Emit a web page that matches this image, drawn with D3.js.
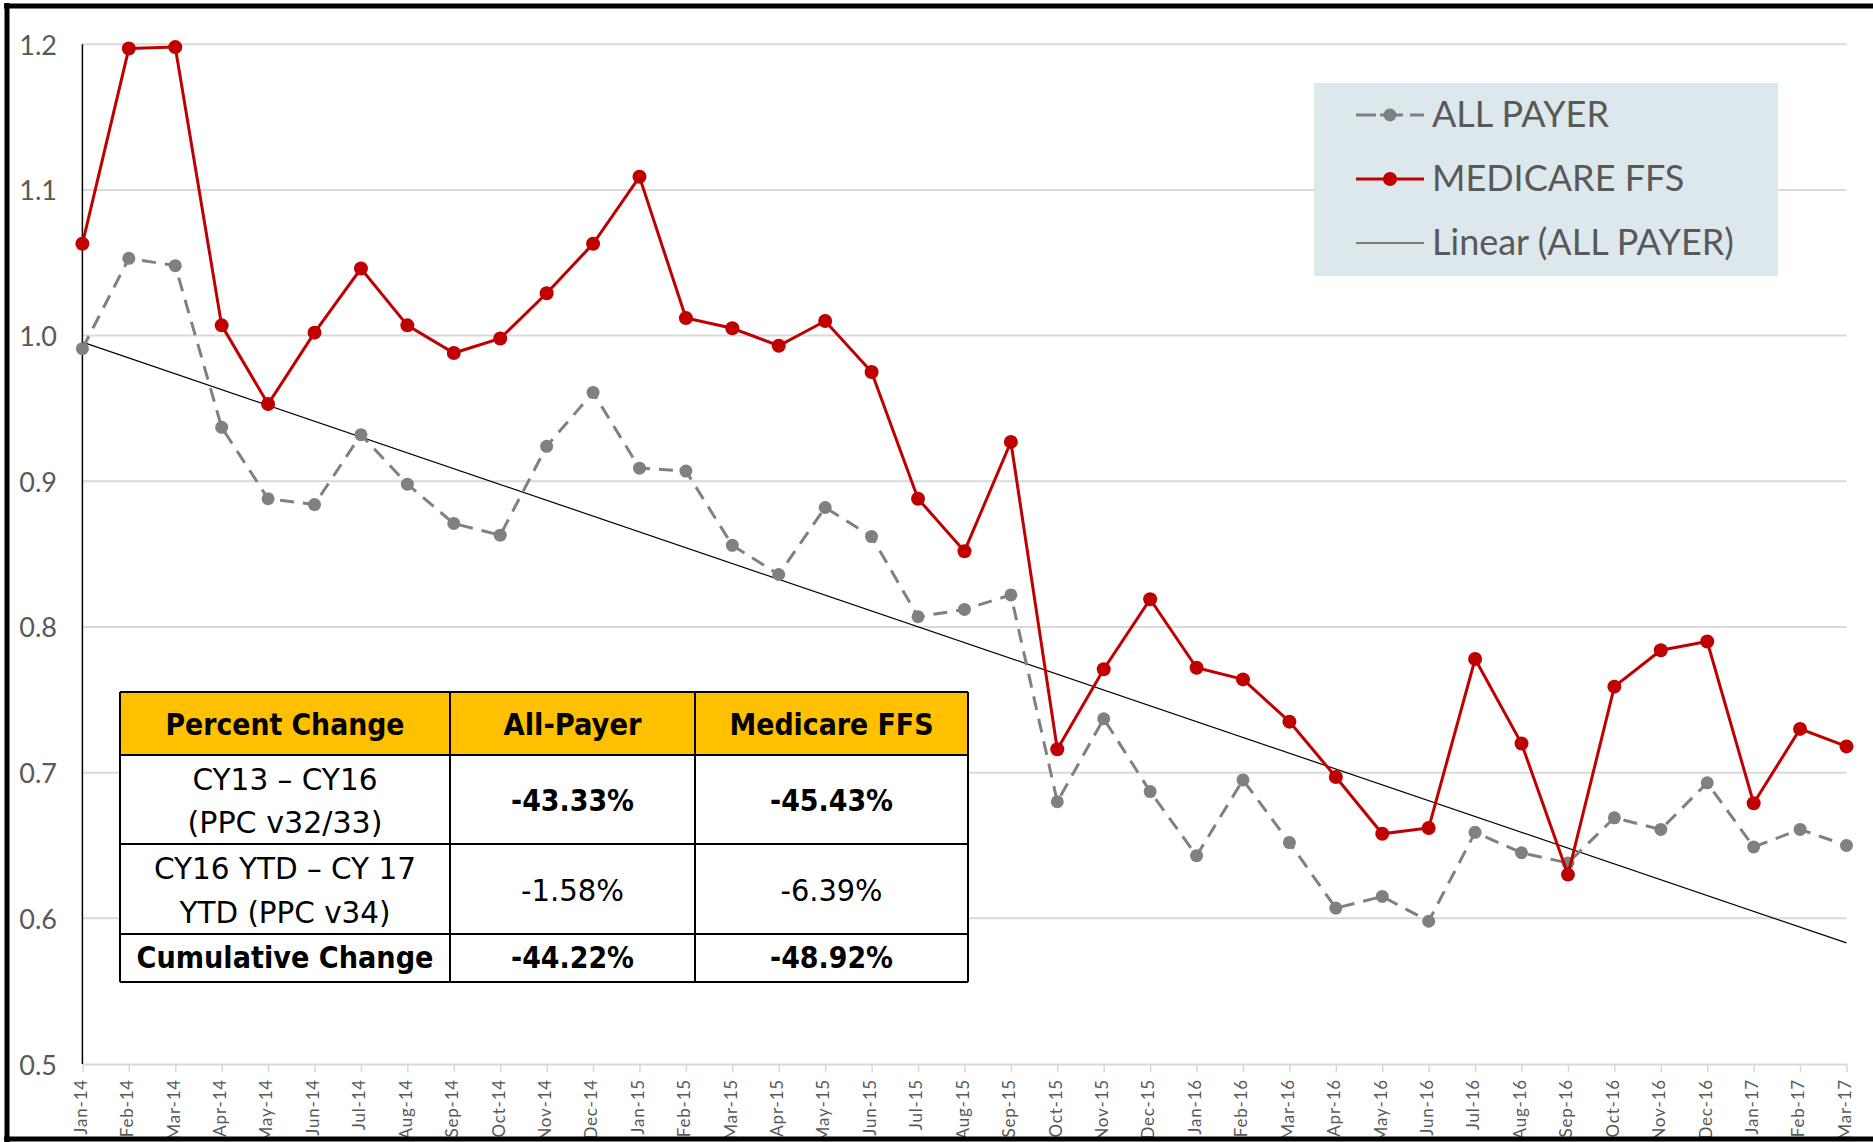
<!DOCTYPE html>
<html>
<head>
<meta charset="utf-8">
<script src="https://cdn.jsdelivr.net/npm/d3@7"></script>
<style>
  html, body { margin: 0; padding: 0; background: #ffffff; }
  svg { display: block; }
</style>
</head>
<body>
<svg id="chart" width="1873" height="1142"></svg>
<script>
const months = ["Jan-14","Feb-14","Mar-14","Apr-14","May-14","Jun-14","Jul-14","Aug-14","Sep-14","Oct-14","Nov-14","Dec-14",
  "Jan-15","Feb-15","Mar-15","Apr-15","May-15","Jun-15","Jul-15","Aug-15","Sep-15","Oct-15","Nov-15","Dec-15",
  "Jan-16","Feb-16","Mar-16","Apr-16","May-16","Jun-16","Jul-16","Aug-16","Sep-16","Oct-16","Nov-16","Dec-16",
  "Jan-17","Feb-17","Mar-17"];

const allPayer = [0.991,1.053,1.048,0.937,0.888,0.884,0.932,0.898,0.871,0.863,0.924,0.961,
  0.909,0.907,0.856,0.836,0.882,0.862,0.807,0.812,0.822,0.680,0.737,0.687,
  0.643,0.695,0.652,0.607,0.615,0.598,0.659,0.645,0.638,0.669,0.661,0.693,
  0.649,0.661,0.650];

const medicareFFS = [1.063,1.197,1.198,1.007,0.953,1.002,1.046,1.007,0.988,0.998,1.029,1.063,
  1.109,1.012,1.005,0.993,1.010,0.975,0.888,0.852,0.927,0.716,0.771,0.819,
  0.772,0.764,0.735,0.697,0.658,0.662,0.778,0.720,0.630,0.759,0.784,0.790,
  0.679,0.730,0.718];

const yTicks = [0.5, 0.6, 0.7, 0.8, 0.9, 1.0, 1.1, 1.2];
const yTickLabels = ["0.5","0.6","0.7","0.8","0.9","1.0","1.1","1.2"];

const legendLabels = ["ALL PAYER", "MEDICARE FFS", "Linear (ALL PAYER)"];

const tableHeader = ["Percent Change", "All-Payer", "Medicare FFS"];
const tableRowLabels = [["CY13 \u2013 CY16", "(PPC v32/33)"], ["CY16 YTD \u2013 CY 17", "YTD (PPC v34)"], ["Cumulative Change"]];
const tableAllPayer = ["-43.33%", "-1.58%", "-44.22%"];
const tableMedicare = ["-45.43%", "-6.39%", "-48.92%"];

const svg = d3.select("#chart");
const pLeft = 82.4, pRight = 1846.5, pTop = 44.2, pBottom = 1064;

const x = d3.scalePoint().domain(months).range([pLeft, pRight]);
const y = d3.scaleLinear().domain([0.5, 1.2]).range([pBottom, pTop]);

const labelFont = "Lato, 'Open Sans', 'DejaVu Sans', sans-serif";
const textGrey = "#595959";

// gridlines
svg.append("g").selectAll("line").data(yTicks.filter(d => d > 0.5)).join("line")
  .attr("x1", pLeft).attr("x2", pRight)
  .attr("y1", d => y(d)).attr("y2", d => y(d))
  .attr("stroke", "#d9d9d9").attr("stroke-width", 2);

// x axis line + ticks
const xAxis = d3.axisBottom(x).tickSize(8).tickSizeOuter(0).tickFormat("");
const gx = svg.append("g").attr("transform", `translate(0,${pBottom})`).call(xAxis);
gx.select(".domain").attr("stroke", "#d9d9d9").attr("stroke-width", 2);
gx.selectAll(".tick line").attr("stroke", "#d9d9d9").attr("stroke-width", 1.5);

// x labels rotated
svg.append("g").selectAll("text").data(months).join("text")
  .attr("transform", d => `translate(${x(d)},1079) rotate(-90)`)
  .attr("text-anchor", "end")
  .attr("dominant-baseline", "middle")
  .attr("font-family", labelFont)
  .attr("font-size", 17)
  .attr("letter-spacing", 0.8)
  .attr("fill", textGrey)
  .text(d => d);

// y axis line
svg.append("line").attr("x1", pLeft).attr("x2", pLeft).attr("y1", pTop).attr("y2", pBottom)
  .attr("stroke", "#000").attr("stroke-width", 1.5);

// y labels
svg.append("g").selectAll("text").data(yTicks).join("text")
  .attr("x", 57).attr("y", d => y(d))
  .attr("text-anchor", "end").attr("dominant-baseline", "central")
  .attr("font-family", labelFont).attr("font-size", 27)
  .attr("fill", textGrey)
  .text((d, i) => yTickLabels[i]);

// trend line (least squares on ALL PAYER)
const n = allPayer.length;
const idx = d3.range(n);
const mx = d3.mean(idx), my = d3.mean(allPayer);
const slope = d3.sum(idx, i => (i - mx) * (allPayer[i] - my)) / d3.sum(idx, i => (i - mx) ** 2);
const intercept = my - slope * mx;
svg.append("line")
  .attr("x1", x(months[0])).attr("y1", y(intercept))
  .attr("x2", x(months[n - 1])).attr("y2", y(intercept + slope * (n - 1)))
  .attr("stroke", "#000").attr("stroke-width", 1.2);

const line = d3.line().x((d, i) => x(months[i])).y(d => y(d));

// ALL PAYER dashed
svg.append("path").datum(allPayer).attr("d", line)
  .attr("fill", "none").attr("stroke", "#808080").attr("stroke-width", 3)
  .attr("stroke-dasharray", "14,9");
svg.append("g").selectAll("circle").data(allPayer).join("circle")
  .attr("cx", (d, i) => x(months[i])).attr("cy", d => y(d)).attr("r", 6.5)
  .attr("fill", "#808080");

// MEDICARE FFS
svg.append("path").datum(medicareFFS).attr("d", line)
  .attr("fill", "none").attr("stroke", "#c00000").attr("stroke-width", 3);
svg.append("g").selectAll("circle").data(medicareFFS).join("circle")
  .attr("cx", (d, i) => x(months[i])).attr("cy", d => y(d)).attr("r", 7)
  .attr("fill", "#c00000");

// legend
const lg = svg.append("g");
lg.append("rect").attr("x", 1314).attr("y", 83).attr("width", 464).attr("height", 193).attr("fill", "#dde8ec");
const legY = [115, 179, 243];
lg.append("line").attr("x1", 1356).attr("x2", 1376).attr("y1", legY[0]).attr("y2", legY[0]).attr("stroke", "#808080").attr("stroke-width", 3);
lg.append("line").attr("x1", 1380).attr("x2", 1403).attr("y1", legY[0]).attr("y2", legY[0]).attr("stroke", "#808080").attr("stroke-width", 3);
lg.append("line").attr("x1", 1410).attr("x2", 1424).attr("y1", legY[0]).attr("y2", legY[0]).attr("stroke", "#808080").attr("stroke-width", 3);
lg.append("circle").attr("cx", 1390).attr("cy", legY[0]).attr("r", 6.5).attr("fill", "#808080");
lg.append("line").attr("x1", 1356).attr("x2", 1424).attr("y1", legY[1]).attr("y2", legY[1]).attr("stroke", "#c00000").attr("stroke-width", 3);
lg.append("circle").attr("cx", 1390).attr("cy", legY[1]).attr("r", 7).attr("fill", "#c00000");
lg.append("line").attr("x1", 1356).attr("x2", 1424).attr("y1", legY[2]).attr("y2", legY[2]).attr("stroke", "#595959").attr("stroke-width", 1.5);
lg.selectAll("text").data(legendLabels).join("text")
  .attr("x", 1432).attr("y", (d, i) => legY[i] - 2).attr("dominant-baseline", "central")
  .attr("font-family", labelFont).attr("font-size", 36).attr("fill", textGrey)
  .text(d => d);

// table
const tFont = "'Liberation Sans Narrow', 'DejaVu Sans Condensed', 'Open Sans', sans-serif";
const colX = [120, 450, 695, 968];
const rowY = [692, 755, 844, 934, 982];
const tg = svg.append("g");
tg.append("rect").attr("x", colX[0]).attr("y", rowY[0]).attr("width", colX[3] - colX[0]).attr("height", rowY[1] - rowY[0]).attr("fill", "#ffc000");
tg.append("rect").attr("x", colX[0]).attr("y", rowY[1]).attr("width", colX[3] - colX[0]).attr("height", rowY[4] - rowY[1]).attr("fill", "#ffffff");
rowY.forEach(ry => tg.append("line").attr("x1", colX[0]).attr("x2", colX[3]).attr("y1", ry).attr("y2", ry).attr("stroke", "#000").attr("stroke-width", 2));
colX.forEach(cx => tg.append("line").attr("x1", cx).attr("x2", cx).attr("y1", rowY[0]).attr("y2", rowY[4]).attr("stroke", "#000").attr("stroke-width", 2));

function cellText(txt, cx, by, w, bold) {
  tg.append("text").attr("x", cx).attr("y", by).attr("text-anchor", "middle")
    .attr("font-family", tFont).attr("font-size", 30)
    .attr("font-weight", bold ? "bold" : "normal").attr("fill", "#000")
    .attr("textLength", w).attr("lengthAdjust", "spacingAndGlyphs")
    .text(txt);
}
const cc = [285, 572.5, 831.5];
cellText(tableHeader[0], cc[0], 735, 239, true);
cellText(tableHeader[1], cc[1], 735, 138, true);
cellText(tableHeader[2], cc[2], 735, 204, true);
cellText(tableRowLabels[0][0], cc[0], 790, 185, false);
cellText(tableRowLabels[0][1], cc[0], 833, 195, false);
cellText(tableAllPayer[0], cc[1], 811, 123, true);
cellText(tableMedicare[0], cc[2], 811, 123, true);
cellText(tableRowLabels[1][0], cc[0], 879, 262, false);
cellText(tableRowLabels[1][1], cc[0], 923, 211, false);
cellText(tableAllPayer[1], cc[1], 901, 103, false);
cellText(tableMedicare[1], cc[2], 901, 102, false);
cellText(tableRowLabels[2][0], cc[0], 968, 297, true);
cellText(tableAllPayer[2], cc[1], 968, 123, true);
cellText(tableMedicare[2], cc[2], 968, 123, true);

// outer frame (thick black)
svg.append("line").attr("x1", 7).attr("x2", 7).attr("y1", 3).attr("y2", 1142).attr("stroke", "#000").attr("stroke-width", 5);
svg.append("line").attr("x1", 4).attr("x2", 1873).attr("y1", 6).attr("y2", 6).attr("stroke", "#000").attr("stroke-width", 5);
svg.append("line").attr("x1", 4).attr("x2", 1873).attr("y1", 1139).attr("y2", 1139).attr("stroke", "#000").attr("stroke-width", 5);
</script>
</body>
</html>
